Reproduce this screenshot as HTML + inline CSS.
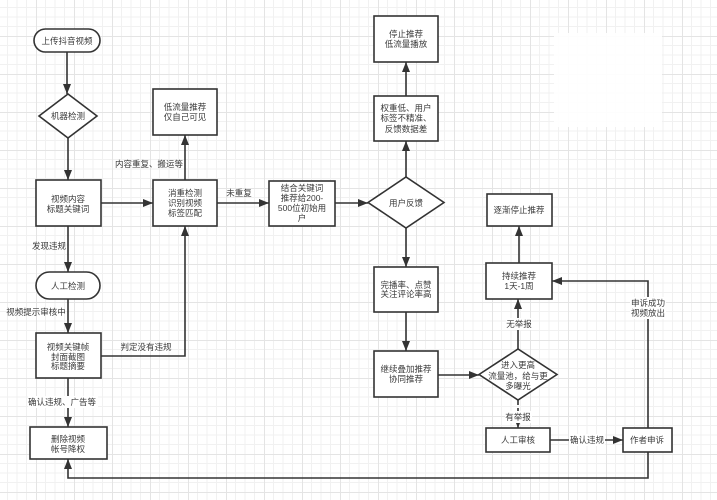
<!DOCTYPE html>
<html><head><meta charset="utf-8"><style>
html,body{margin:0;padding:0;background:#fff;}
svg{display:block;}
text{font-family:"Liberation Sans","Noto Sans CJK SC",sans-serif;font-size:8.5px;fill:#3a3a3a;text-anchor:middle;}
</style></head><body>
<svg width="717" height="500" viewBox="0 0 717 500" xmlns="http://www.w3.org/2000/svg">
<defs>
<pattern id="g" x="-2" y="-2" width="38" height="38" patternUnits="userSpaceOnUse">
<path d="M9.5 0V38M19 0V38M28.5 0V38M0 9.5H38M0 19H38M0 28.5H38" stroke="#f1f1f1" stroke-width="1" fill="none"/>
<path d="M0.5 0V38M0 0.5H38" stroke="#e4e4e4" stroke-width="1" fill="none"/>
</pattern>
<marker id="a" markerWidth="10" markerHeight="8" refX="10" refY="4" orient="auto" markerUnits="userSpaceOnUse">
<path d="M0,0 L10,4 L0,8 z" fill="#333"/>
</marker>
</defs>
<rect width="717" height="500" fill="url(#g)"/>
<rect x="554" y="33" width="108" height="94" fill="#fff" opacity="0.9"/>

<g stroke="#333" stroke-width="1.6" fill="none">
<line x1="67" y1="52" x2="67" y2="94" marker-end="url(#a)"/>
<line x1="68" y1="138" x2="68" y2="180" marker-end="url(#a)"/>
<line x1="101" y1="203" x2="153" y2="203" marker-end="url(#a)"/>
<line x1="185" y1="180" x2="185" y2="135" marker-end="url(#a)"/>
<line x1="217" y1="203" x2="269" y2="203" marker-end="url(#a)"/>
<line x1="335" y1="203" x2="368" y2="203" marker-end="url(#a)"/>
<line x1="406" y1="177" x2="406" y2="141" marker-end="url(#a)"/>
<line x1="406" y1="96" x2="406" y2="62" marker-end="url(#a)"/>
<line x1="406" y1="228" x2="406" y2="267" marker-end="url(#a)"/>
<line x1="406" y1="312" x2="406" y2="351" marker-end="url(#a)"/>
<line x1="438" y1="375" x2="479" y2="375" marker-end="url(#a)"/>
<line x1="518" y1="349" x2="518" y2="299" marker-end="url(#a)"/>
<line x1="519" y1="263" x2="519" y2="226" marker-end="url(#a)"/>
<line x1="518" y1="400" x2="518" y2="428" stroke-dasharray="5,3" marker-end="url(#a)"/>
<line x1="550" y1="440" x2="623" y2="440" marker-end="url(#a)"/>
<polyline points="648,428 648,281 552,281" marker-end="url(#a)"/>
<polyline points="648,452 648,478 68,478 68,459" marker-end="url(#a)"/>
<line x1="68" y1="226" x2="68" y2="272" marker-end="url(#a)"/>
<line x1="68" y1="299" x2="68" y2="333" marker-end="url(#a)"/>
<polyline points="101,356 185,356 185,226" marker-end="url(#a)"/>
<line x1="68" y1="378" x2="68" y2="427" marker-end="url(#a)"/>
</g>

<g stroke="#333" stroke-width="1.6" fill="#fff">
<rect x="34" y="29" width="66" height="23" rx="11.5"/>
<rect x="36" y="272" width="64" height="27" rx="13.5"/>
<polygon points="39,116 68,94 97,116 68,138"/>
<polygon points="368,202.5 406,177 444,202.5 406,228"/>
<polygon points="479,374.5 518,349 557,374.5 518,400"/>
<rect x="36" y="180" width="65" height="46"/>
<rect x="153" y="180" width="64" height="46"/>
<rect x="153" y="89" width="64" height="46"/>
<rect x="269" y="181" width="66" height="45"/>
<rect x="374" y="16" width="64" height="46"/>
<rect x="374" y="96" width="64" height="45"/>
<rect x="487" y="194" width="65" height="32"/>
<rect x="374" y="267" width="64" height="45"/>
<rect x="374" y="351" width="64" height="46"/>
<rect x="486" y="263" width="66" height="36"/>
<rect x="486" y="428" width="64" height="24"/>
<rect x="623" y="428" width="49" height="24"/>
<rect x="36" y="333" width="65" height="45"/>
<rect x="30" y="427" width="77" height="32"/>
</g>

<!-- label backgrounds -->
<g fill="#fff">
<rect x="506" y="318" width="26" height="12"/>
<rect x="505" y="411" width="27" height="12"/>
<rect x="569" y="434" width="36" height="12"/>
<rect x="630" y="297" width="36" height="22"/>
<rect x="28" y="396" width="70" height="12"/>
</g>

<g>
<text x="67" y="44">上传抖音视频</text>
<text x="68" y="119">机器检测</text>
<text x="68" y="202">视频内容</text>
<text x="68" y="212">标题关键词</text>
<text x="185" y="196">消重检测</text>
<text x="185" y="206">识别视频</text>
<text x="185" y="216">标签匹配</text>
<text x="185" y="110">低流量推荐</text>
<text x="185" y="120">仅自己可见</text>
<text x="149" y="167">内容重复、搬运等</text>
<text x="239" y="196">未重复</text>
<text x="302" y="191">结合关键词</text>
<text x="302" y="201">推荐给200-</text>
<text x="302" y="211">500位初始用</text>
<text x="302" y="221">户</text>
<text x="406" y="206">用户反馈</text>
<text x="406" y="111">权重低、用户</text>
<text x="406" y="121">标签不精准、</text>
<text x="406" y="132">反馈数据差</text>
<text x="406" y="37">停止推荐</text>
<text x="406" y="47">低流量播放</text>
<text x="519" y="213">逐渐停止推荐</text>
<text x="406" y="288">完播率、点赞</text>
<text x="406" y="297">关注评论率高</text>
<text x="406" y="372">继续叠加推荐</text>
<text x="406" y="382">协同推荐</text>
<text x="518" y="368">进入更高</text>
<text x="518" y="379">流量池，给与更</text>
<text x="518" y="389">多曝光</text>
<text x="519" y="279">持续推荐</text>
<text x="519" y="289">1天-1周</text>
<text x="519" y="327">无举报</text>
<text x="518" y="420">有举报</text>
<text x="518" y="443">人工审核</text>
<text x="587" y="443">确认违规</text>
<text x="647" y="443">作者申诉</text>
<text x="648" y="306">申诉成功</text>
<text x="648" y="316">视频放出</text>
<text x="68" y="289">人工检测</text>
<text x="36" y="315">视频提示审核中</text>
<text x="49" y="249">发现违规</text>
<text x="68" y="350">视频关键帧</text>
<text x="68" y="360">封面截图</text>
<text x="68" y="369">标题摘要</text>
<text x="146" y="350">判定没有违规</text>
<text x="62" y="405">确认违规、广告等</text>
<text x="68" y="442">删除视频</text>
<text x="68" y="452">帐号降权</text>
</g>
</svg>
</body></html>
